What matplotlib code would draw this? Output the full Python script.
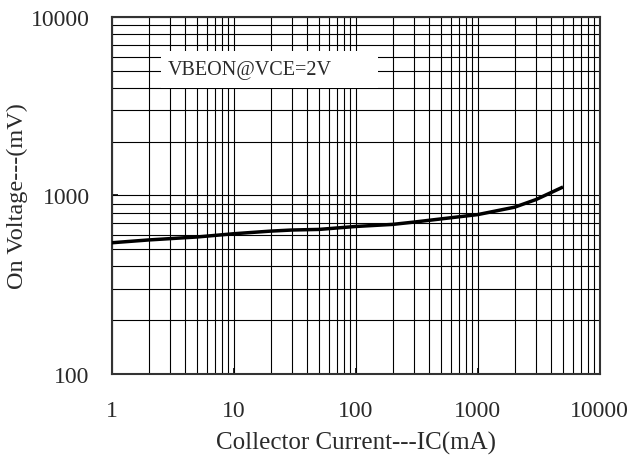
import matplotlib
matplotlib.use("Agg")
import matplotlib.pyplot as plt
from matplotlib.ticker import LogLocator, FixedLocator, FixedFormatter, NullFormatter
from matplotlib.patches import Rectangle

# Data
ic_ma = [1, 2, 5, 10, 20, 30, 50, 100, 200, 300, 1000, 2000, 3000, 5000]
vbe_mv = [543, 563, 585, 610, 631, 640, 645, 670, 688, 709, 781, 859, 948, 1115]

x_ticks = [1, 10, 100, 1000, 10000]
x_tick_labels = ["1", "10", "100", "1000", "10000"]
y_ticks = [100, 1000, 10000]
y_tick_labels = ["100", "1000", "10000"]

x_label = "Collector Current---IC(mA)"
y_label = "On Voltage---(mV)"
annotation = "VBEON@VCE=2V"

plt.rcParams['font.family'] = ['Liberation Serif', 'DejaVu Serif']
text_color = '#2a2a2a'

fig = plt.figure(figsize=(6.32, 4.60), dpi=100)
ax = fig.add_axes([0.177, 0.185, 0.772, 0.776])

ax.set_xscale('log')
ax.set_yscale('log')
ax.set_xlim(1, 10000)
ax.set_ylim(100, 10000)

ax.xaxis.set_major_locator(FixedLocator(x_ticks))
ax.xaxis.set_major_formatter(FixedFormatter(x_tick_labels))
ax.yaxis.set_major_locator(FixedLocator(y_ticks))
ax.yaxis.set_major_formatter(FixedFormatter(y_tick_labels))
ax.xaxis.set_minor_locator(LogLocator(base=10, subs=range(2, 10)))
ax.yaxis.set_minor_locator(LogLocator(base=10, subs=range(2, 10)))
ax.xaxis.set_minor_formatter(NullFormatter())
ax.yaxis.set_minor_formatter(NullFormatter())

ax.grid(True, which='both', color='black', linewidth=0.8)
ax.set_axisbelow(True)

ax.tick_params(which='major', direction='in', length=4, width=1.2, labelsize=17,
               color='black', labelcolor=text_color)
ax.tick_params(which='minor', length=0)
ax.tick_params(axis='x', pad=19)
ax.tick_params(axis='y', pad=16)
for s in ax.spines.values():
    s.set_color('#333333')
    s.set_linewidth(1.5)

ax.plot(ic_ma, vbe_mv, color='black', linewidth=2.5, solid_capstyle='butt', zorder=3)

ax.add_patch(Rectangle((0.100, 0.80), 0.445, 0.105, transform=ax.transAxes,
                       facecolor='white', edgecolor='none', zorder=2.5))
ax.text(0.115, 0.852, annotation, transform=ax.transAxes, fontsize=14.5,
        ha='left', va='center', color=text_color, zorder=4)

ax.set_xlabel(x_label, fontsize=18, labelpad=7, color=text_color)
ax.set_ylabel(y_label, fontsize=17.5, labelpad=2, color=text_color)

fig.savefig("out.png", dpi=100, facecolor='white')
